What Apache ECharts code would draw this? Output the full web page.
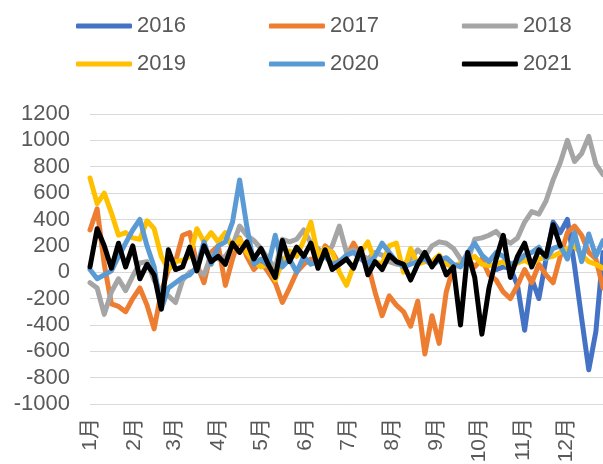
<!DOCTYPE html>
<html>
<head>
<meta charset="utf-8">
<script src="https://cdn.jsdelivr.net/npm/echarts@6/dist/echarts.min.js"></script>
<style>
  html, body { margin: 0; padding: 0; background: #fff; }
  #chart { width: 603px; height: 464px; }
</style>
</head>
<body>
<div id="chart"></div>
<script>
// day of year for each sample
const days = [0, 5, 10, 15, 20, 25, 30, 35, 40, 45, 50, 55, 60, 65, 70, 75, 80, 85, 90, 95,
  100, 105, 110, 115, 120, 125, 130, 135, 140, 145, 150, 155, 160, 165, 170, 175, 180, 185, 190, 195,
  200, 205, 210, 215, 220, 225, 230, 235, 240, 245, 250, 255, 260, 265, 270, 275, 280, 285, 290, 295,
  300, 305, 310, 315, 320, 325, 330, 335, 340, 345, 350, 355, 360]

const monthDays = [0, 31, 59, 90, 120, 151, 181, 212, 243, 273, 304, 334]
const monthLabels = ['1月', '2月', '3月', '4月', '5月', '6月', '7月', '8月', '9月', '10月', '11月', '12月']

const names = ['2016', '2017', '2018', '2019', '2020', '2021']

const s2016 = [null, null, null, null, null, null, null, null, null, null,
  null, null, null, null, null, null, null, null, null, null,
  null, null, null, null, null, null, null, null, null, null,
  null, null, null, null, null, null, null, null, null, null,
  null, null, null, null, null, null, null, null, null, null,
  null, null, null, null, null, null, null, 20, 40, 30,
  -100, -440, -50, -200, 100, 380, 300, 400, 50, -350,
  -740, -450, 150]

const s2017 = [320, 480, 60, -240, -260, -300, -200, -120, -250, -430,
  -150, 20, 80, 280, 300, 60, -80, 150, 200, -100,
  100, 260, 120, 20, 80, 0, -80, -230, -120, 0,
  60, 100, 60, 200, 150, 60, 120, 220, 120, 60,
  -150, -330, -180, -250, -300, -410, -220, -620, -330, -540,
  -150, 40, 60, 100, 40, 100, -20, -60, -150, -200,
  -100, 20, -80, 60, -20, -80, 120, 300, 350, 280,
  150, 100, -120]

const s2018 = [-80, -120, -320, -150, -50, -140, -30, 70, 80, -60,
  -150, -180, -230, -60, 0, 20, -20, 130, 100, 120,
  200, 350, 280, 240, 180, 100, 30, 250, 230, 250,
  320, 220, 180, 120, 200, 350, 150, 170, 130, 100,
  150, 130, 80, 60, 60, 100, 170, 120, 200, 230,
  220, 180, 100, 80, 250, 260, 280, 310, 250, 220,
  260, 380, 460, 440, 540, 700, 830, 1000, 840, 900,
  1030, 820, 740]

const s2019 = [715, 520, 600, 450, 280, 300, 260, 250, 390, 330,
  120, 20, 80, 90, 120, 330, 230, 300, 230, 300,
  180, 250, 150, 80, 40, 60, -60, 80, 160, 120,
  240, 380, 120, 180, 150, 0, -100, 50, 150, 230,
  80, 60, 200, 220, 0, 180, 60, 80, 80, 130,
  60, 40, 70, 90, 120, 60, 50, 60, 80, 40,
  70, 90, 60, 100, 110, 120, 150, 180, 200, 130,
  80, 60, 30]

const s2020 = [20, -50, -20, 10, 120, 220, 320, 400, 200, 40,
  -280, -120, -80, -40, -20, 40, 230, 60, 200, 230,
  380, 700, 350, 60, 100, 50, 280, 40, 100, 0,
  120, 60, 80, 120, 60, 80, 130, 150, 100, 60,
  120, 220, 150, 80, 40, 60, 80, 100, 50, 90,
  110, 60, 40, 150, 220, 130, 80, 150, 120, 60,
  80, 130, 150, 190, 100, 180, 200, 100, 300, 80,
  290, 120, 240]

const s2021 = [40, 330, 200, 30, 220, 40, 200, -50, 60, -20,
  -280, 170, 20, 40, 190, 10, 200, 80, 120, 60,
  220, 150, 230, 100, 180, 60, -40, 240, 80, 190,
  120, 220, 30, 170, 20, 60, 100, 30, 180, -20,
  80, 20, 130, 80, 60, -60, 60, 150, 40, 120,
  -20, 40, -400, 150, -40, -470, -120, 100, 280, -40,
  120, 220, 40, 170, 120, 360, 200, null, null, null,
  null, null, null]

const yearValues = [s2016, s2017, s2018, s2019, s2020, s2021]
const colors = ['#4472C4', '#ED7D31', '#A5A5A5', '#FFC000', '#5B9BD5', '#000000']

const font = '"Liberation Sans", "Noto Sans CJK SC", sans-serif'
const textColor = '#595959'

const legendBase = {
  left: 76,
  itemWidth: 56,
  itemHeight: 5,
  itemGap: 83,
  itemTextGap: 4,
  icon: 'roundRect',
  padding: 0,
  textStyle: { color: textColor, fontSize: 22, fontFamily: font }
}

const chart = echarts.init(document.getElementById('chart'))
chart.setOption({
  animation: false,
  color: colors,
  legend: [
    Object.assign({ data: names.slice(0, 3), top: 15 }, legendBase),
    Object.assign({ data: names.slice(3), top: 53 }, legendBase)
  ],
  grid: { left: 90, right: 0, top: 114, bottom: 60, outerBoundsMode: 'none' },
  xAxis: {
    type: 'value',
    min: 0,
    max: 360,
    axisLine: { show: false },
    axisTick: { show: false },
    splitLine: { show: false },
    axisLabel: {
      customValues: monthDays,
      formatter: v => monthLabels[monthDays.indexOf(v)],
      rotate: 90,
      margin: 14,
      fontSize: 21,
      padding: [0, 0, 6, 0],
      color: textColor,
      fontFamily: font
    }
  },
  yAxis: {
    type: 'value',
    min: -1000,
    max: 1200,
    interval: 200,
    axisLine: { show: false },
    axisTick: { show: false },
    axisLabel: { margin: 20, fontSize: 22, color: textColor, fontFamily: font, formatter: v => String(v) },
    splitLine: { lineStyle: { color: '#d9d9d9', width: 1 } }
  },
  series: names.map((name, k) => ({
    name,
    type: 'line',
    symbol: 'none',
    lineStyle: { width: 5, join: 'round', cap: 'round' },
    data: days.map((d, i) => [d, yearValues[k][i]])
  }))
})
</script>
</body>
</html>
